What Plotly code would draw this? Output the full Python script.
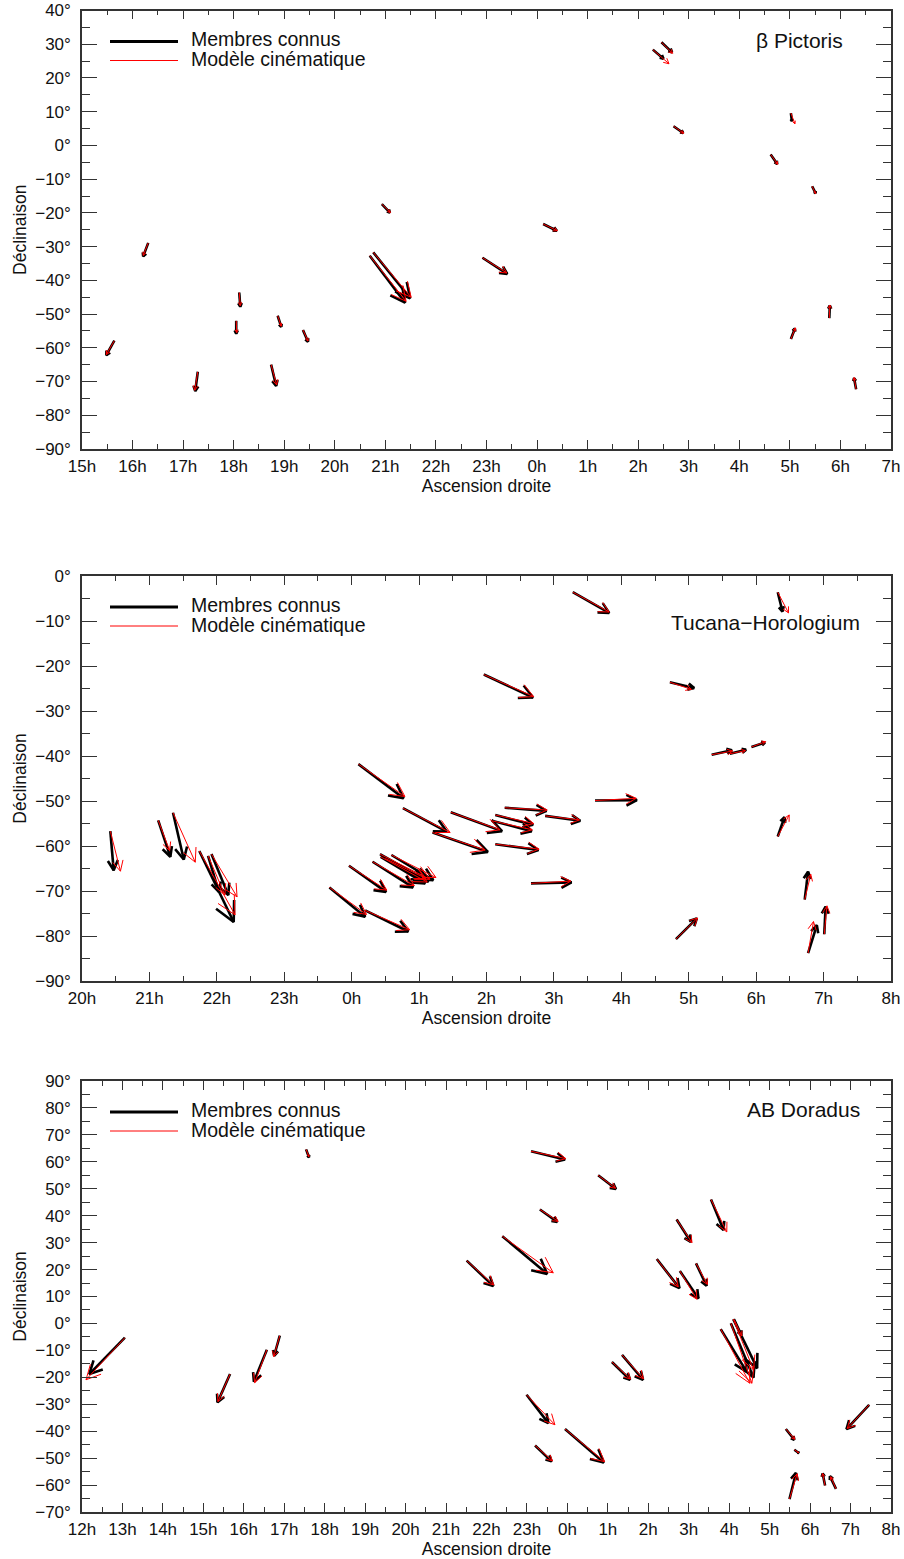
import math
import plotly.graph_objects as go

# ---------------- data ----------------
# beta Pictoris: start (RA h, Dec deg), observed tip (black), model tip (red)
bp_ra0 = [15.64, 16.31, 17.29, 18.11, 18.05, 18.87, 18.74, 19.37, 20.93, 20.69, 20.76, 22.92,
          24.12, 26.46, 26.29, 26.70, 29.02, 28.62, 29.44, 29.78, 29.02, 30.31]
bp_de0 = [-57.9, -28.9, -67.1, -43.6, -52.0, -50.5, -65.0, -54.7, -17.4, -32.7, -31.7, -33.3,
          -23.3, 30.6, 28.4, 5.7, 9.6, -2.7, -12.1, -51.2, -57.4, -72.3]
bp_ra_obs = [15.48, 16.21, 17.24, 18.13, 18.05, 18.94, 18.84, 19.47, 21.09, 21.39, 21.49, 23.41,
             24.39, 26.67, 26.50, 26.89, 29.04, 28.75, 29.51, 29.79, 29.10, 30.27]
bp_de_obs = [-62.2, -32.9, -72.8, -47.8, -55.8, -53.8, -71.3, -58.2, -19.9, -46.6, -45.3, -38.1,
             -25.3, 27.6, 25.7, 3.7, 7.2, -5.5, -14.2, -47.5, -54.3, -69.0]
bp_ra_mod = [15.48, 16.21, 17.23, 18.13, 18.06, 18.94, 18.85, 19.47, 21.10, 21.41, 21.51, 23.40,
             24.40, 26.68, 26.61, 26.90, 29.10, 28.76, 29.51, 29.79, 29.11, 30.27]
bp_de_mod = [-62.0, -32.6, -72.6, -47.5, -55.5, -53.6, -71.0, -58.0, -19.9, -46.2, -45.0, -37.8,
             -25.3, 27.3, 24.2, 3.6, 6.4, -5.6, -14.3, -47.3, -54.1, -68.8]

# Tucana-Horologium
th_ra0 = [20.42, 21.13, 21.35, 21.74, 21.87, 21.92,
          24.10, 24.76, 25.20, 25.47, 26.27, 26.87, 26.13, 26.08, 26.13, 26.66,
          23.96, 24.31, 24.42, 24.43, 24.59, 24.50, 23.67, 24.20,
          27.28, 30.32, 25.96, 28.72, 29.34, 29.61, 29.93,
          27.61, 30.32, 30.72, 30.77, 31.01, 28.81]
th_de0 = [-56.7, -54.3, -52.6, -61.1, -62.2, -61.8,
          -41.8, -51.6, -57.0, -52.5, -51.5, -53.3, -53.1, -54.4, -59.6, -68.3,
          -64.4, -63.5, -61.8, -62.4, -62.0, -62.8, -69.2, -74.3,
          -3.6, -3.6, -21.9, -23.6, -39.7, -39.5, -38.0,
          -49.9, -57.9, -71.9, -83.8, -79.6, -80.7]
th_ra_obs = [20.47, 21.31, 21.51, 22.25, 22.03, 22.17,
             24.77, 25.41, 26.02, 26.23, 26.89, 27.39, 26.69, 26.67, 26.77, 27.26,
             24.51, 24.91, 25.14, 25.09, 25.21, 25.05, 24.20, 24.84,
             27.82, 30.39, 26.69, 29.08, 29.64, 29.85, 30.13,
             28.23, 30.42, 30.77, 30.90, 31.03, 29.12]
th_de_obs = [-65.4, -62.4, -63.0, -76.9, -70.2, -70.9,
             -49.4, -56.8, -61.3, -56.7, -52.2, -54.4, -55.3, -56.7, -60.9, -68.1,
             -70.2, -69.2, -67.9, -68.3, -67.6, -67.5, -75.7, -79.0,
             -8.2, -7.9, -27.0, -24.9, -38.7, -38.6, -37.0,
             -49.8, -53.6, -65.7, -77.6, -73.5, -76.1]
th_ra_mod = [20.57, 21.30, 21.68, 22.27, 22.12, 22.30,
             24.79, 25.46, 25.98, 26.20, 26.90, 27.38, 26.70, 26.68, 26.78, 27.25,
             24.52, 24.93, 25.16, 25.12, 25.25, 25.10, 24.22, 24.86,
             27.82, 30.48, 26.70, 29.04, 29.65, 29.84, 30.14,
             28.22, 30.49, 30.81, 30.85, 31.05, 29.13]
th_de_mod = [-65.6, -61.0, -63.6, -75.3, -70.9, -71.3,
             -49.0, -57.0, -60.9, -56.4, -52.0, -54.2, -55.0, -56.4, -60.7, -67.8,
             -69.8, -68.8, -67.4, -68.0, -67.0, -67.2, -75.2, -78.6,
             -8.0, -8.2, -26.8, -25.2, -38.9, -38.8, -36.8,
             -49.4, -53.1, -66.3, -76.8, -73.3, -76.0]

# AB Doradus
ab_ra0 = [13.06, 15.66, 16.57, 16.89, 17.54, 23.10, 24.76, 23.32, 22.39, 21.51,
          26.70, 26.21, 26.78, 27.18, 27.55, 28.10, 28.04, 27.79, 28.12, 25.10, 25.35,
          22.99, 23.94, 23.20, 29.40, 29.61, 29.49, 31.46, 30.37, 30.64]
ab_de0 = [-5.3, -18.8, -9.8, -4.5, 64.6, 63.9, 55.0, 42.3, 32.4, 23.3,
          38.6, 23.9, 19.5, 22.3, 46.0, 1.6, 0.1, -2.1, 1.5, -14.3, -11.7,
          -26.5, -39.2, -45.3, -39.2, -46.9, -65.2, -30.2, -60.2, -61.4]
ab_ra_obs = [12.18, 15.35, 16.25, 16.75, 17.61, 23.94, 25.20, 23.75, 23.50, 22.17,
             27.05, 26.77, 27.24, 27.44, 27.86, 28.69, 28.60, 28.43, 28.30, 25.55, 25.87,
             23.53, 24.90, 23.61, 29.61, 29.72, 29.65, 30.90, 30.31, 30.49]
ab_de_obs = [-18.8, -29.3, -21.6, -12.0, 61.7, 60.9, 49.9, 37.7, 18.4, 13.9,
             30.3, 13.1, 9.3, 14.0, 34.7, -16.6, -20.1, -17.9, -4.3, -20.9, -20.9,
             -37.0, -51.6, -51.2, -43.2, -48.1, -55.5, -39.2, -55.7, -56.7]
ab_ra_mod = [12.10, 15.36, 16.27, 16.74, 17.61, 23.96, 25.19, 23.77, 23.65, 22.18,
             27.08, 26.74, 27.20, 27.46, 27.94, 28.60, 28.56, 28.51, 28.31, 25.56, 25.88,
             23.69, 24.92, 23.63, 29.62, 29.72, 29.68, 30.92, 30.31, 30.51]
ab_de_mod = [-20.9, -29.0, -22.0, -12.3, 61.9, 61.2, 50.2, 37.9, 18.8, 14.3,
             30.0, 13.6, 9.0, 14.5, 34.0, -17.2, -22.2, -22.2, -4.6, -20.6, -20.5,
             -37.6, -51.3, -51.0, -43.0, -48.0, -55.8, -39.0, -55.7, -56.9]

# axis ticks
bp_ra_ticks = list(range(15, 32))
bp_ra_labels = ["15h", "16h", "17h", "18h", "19h", "20h", "21h", "22h", "23h",
                "0h", "1h", "2h", "3h", "4h", "5h", "6h", "7h"]
th_ra_ticks = list(range(20, 33))
th_ra_labels = ["20h", "21h", "22h", "23h", "0h", "1h", "2h", "3h", "4h",
                "5h", "6h", "7h", "8h"]
ab_ra_ticks = list(range(12, 33))
ab_ra_labels = ["12h", "13h", "14h", "15h", "16h", "17h", "18h", "19h", "20h", "21h",
                "22h", "23h", "0h", "1h", "2h", "3h", "4h", "5h", "6h", "7h", "8h"]

group_names = ["β Pictoris", "Tucana−Horologium", "AB Doradus"]
legend_names = ["Membres connus", "Modèle cinématique"]

# ---------------- layout geometry ----------------
W, H = 904, 1559
FONT = "Liberation Sans, Arial, Helvetica, sans-serif"
frames = [  # left, right, top, bottom in px
    (82, 891, 10.5, 449),
    (82, 891, 576, 981),
    (82, 891, 1081, 1512),
]
title_dy = [29.5, 47, 28]
title_x = [845, 862, 862]
xtitle_standoff = [2, 2, 5]
xranges = [(15, 31), (20, 32), (12, 32)]
yranges = [(-90, 40), (-90, 0), (-70, 90)]
xticks = [(bp_ra_ticks, bp_ra_labels), (th_ra_ticks, th_ra_labels), (ab_ra_ticks, ab_ra_labels)]
data = [
    (bp_ra0, bp_de0, bp_ra_obs, bp_de_obs, bp_ra_mod, bp_de_mod),
    (th_ra0, th_de0, th_ra_obs, th_de_obs, th_ra_mod, th_de_mod),
    (ab_ra0, ab_de0, ab_ra_obs, ab_de_obs, ab_ra_mod, ab_de_mod),
]


def arrow_paths(ra0, de0, ra1, de1, sx, sy, frac=0.28, ang=27.0):
    xs, ys = [], []
    for a, b, c, d in zip(ra0, de0, ra1, de1):
        dx = (c - a) * sx
        dy = (d - b) * sy
        L = math.hypot(dx, dy)
        xs += [a, c, None]
        ys += [b, d, None]
        if L == 0:
            continue
        hl = frac * L
        vx, vy = -dx / L, -dy / L
        wing = []
        for s in (1, -1):
            t = math.radians(ang) * s
            rx = vx * math.cos(t) - vy * math.sin(t)
            ry = vx * math.sin(t) + vy * math.cos(t)
            wing.append((c + hl * rx / sx, d + hl * ry / sy))
        xs += [wing[0][0], c, wing[1][0], None]
        ys += [wing[0][1], d, wing[1][1], None]
    return xs, ys


fig = go.Figure()
layout = dict(width=W, height=H, margin=dict(l=0, r=0, t=0, b=0, autoexpand=False),
              paper_bgcolor="white", plot_bgcolor="white", showlegend=False,
              font=dict(family=FONT, size=17, color="#111"))

annotations = []
shapes = []
for i in range(3):
    l, r, t, b = frames[i]
    xr, yr = xranges[i], yranges[i]
    sx = (r - l) / (xr[1] - xr[0])
    sy = (b - t) / (yr[1] - yr[0])
    sfx = "" if i == 0 else str(i + 1)
    xa, ya = "x" + sfx, "y" + sfx
    ra0, de0, rao, deo, ram, dem = data[i]
    bx, by = arrow_paths(ra0, de0, rao, deo, sx, sy)
    rx, ry = arrow_paths(ra0, de0, ram, dem, sx, sy)
    fig.add_trace(go.Scatter(x=bx, y=by, mode="lines", xaxis=xa, yaxis=ya,
                             line=dict(color="black", width=2.6), hoverinfo="skip",
                             name=legend_names[0]))
    fig.add_trace(go.Scatter(x=rx, y=ry, mode="lines", xaxis=xa, yaxis=ya,
                             line=dict(color="red", width=1), hoverinfo="skip",
                             name=legend_names[1]))
    tv, tt = xticks[i]
    layout["xaxis" + sfx] = dict(
        domain=[l / W, r / W], anchor=ya, range=list(xr), automargin=False,
        tickmode="array", tickvals=tv, ticktext=tt,
        ticks="inside", ticklen=9, tickwidth=1.3, tickcolor="#333",
        minor=dict(ticks="inside", ticklen=5, dtick=0.5, tickwidth=1, tickcolor="#333"),
        showline=True, linecolor="#333", linewidth=1.5, mirror="ticks",
        showgrid=False, zeroline=False, ticklabelstandoff=1,
        tickfont=dict(size=17, family=FONT, color="#111"),
        title=dict(text="Ascension droite", standoff=xtitle_standoff[i],
                   font=dict(size=17.5, family=FONT, color="#111")),
    )
    layout["yaxis" + sfx] = dict(
        domain=[1 - b / H, 1 - t / H], anchor=xa, range=list(yr), automargin=False,
        dtick=10, tick0=0, ticksuffix="°",
        ticks="inside", ticklen=15, tickwidth=1.3, tickcolor="#333",
        minor=dict(ticks="inside", ticklen=8, dtick=5, tickwidth=1, tickcolor="#333"),
        showline=True, linecolor="#333", linewidth=1.5, mirror="ticks",
        showgrid=False, zeroline=False, ticklabelstandoff=6,
        tickfont=dict(size=17, family=FONT, color="#111"),
        title=dict(text="Déclinaison", standoff=4,
                   font=dict(size=17.5, family=FONT, color="#111")),
    )
    # legend inside each panel (drawn as shapes + text)
    ly1 = t + 31
    ly2 = t + 50
    shapes.append(dict(type="line", xref="paper", yref="paper", x0=110 / W, x1=178 / W,
                       y0=1 - ly1 / H, y1=1 - ly1 / H, line=dict(color="black", width=3)))
    shapes.append(dict(type="line", xref="paper", yref="paper", x0=110 / W, x1=178 / W,
                       y0=1 - ly2 / H, y1=1 - ly2 / H, line=dict(color="red", width=1)))
    for txt, yy in zip(legend_names, (ly1 - 2, ly2 - 1)):
        annotations.append(dict(text=txt, xref="paper", yref="paper", x=189 / W, y=1 - yy / H,
                                xanchor="left", yanchor="middle", showarrow=False,
                                font=dict(size=19.5, family=FONT, color="#111")))
    annotations.append(dict(text=group_names[i], xref="paper", yref="paper", x=title_x[i] / W,
                            y=1 - (t + title_dy[i]) / H, xanchor="right", yanchor="middle",
                            showarrow=False, font=dict(size=21, family=FONT, color="#111")))

layout["annotations"] = annotations
layout["shapes"] = shapes
fig.update_layout(**layout)
fig.write_html("out.html")
